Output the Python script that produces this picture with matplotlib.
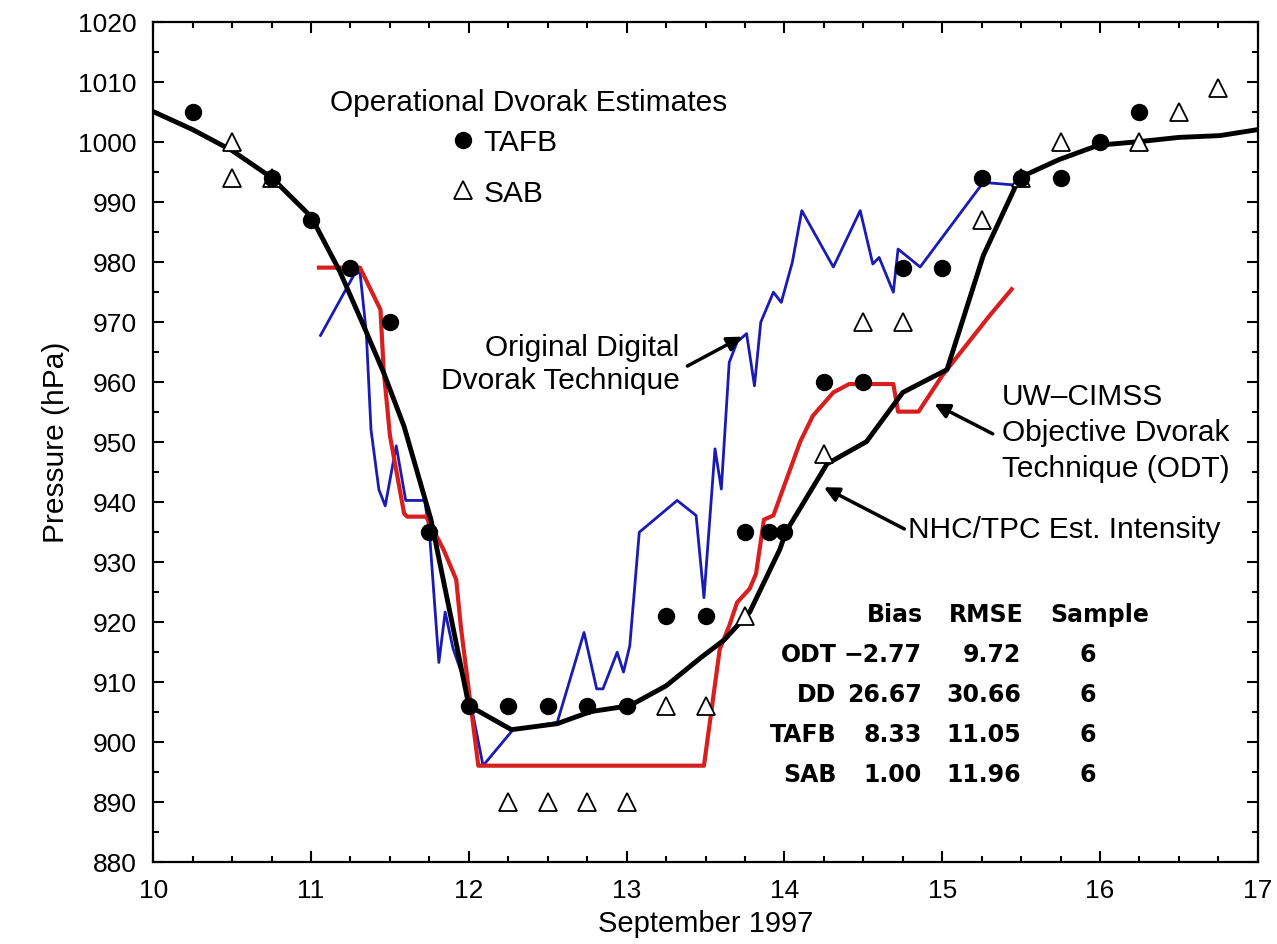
"""Hurricane intensity: Dvorak estimates vs best track, September 1997"""

import matplotlib
matplotlib.use("Agg")
import matplotlib.pyplot as plt
from matplotlib.lines import Line2D
from matplotlib.ticker import MultipleLocator

plt.rcParams["font.family"] = ["Liberation Sans", "DejaVu Sans"]

# NHC/TPC best-track intensity (black)
nhc_day = [10.0, 10.25, 10.5, 10.75, 11.0, 11.14, 11.18, 11.33, 11.46, 11.59,
           11.76, 11.9, 12.0, 12.27, 12.56, 12.77, 13.02, 13.25, 13.47, 13.62,
           13.78, 13.97, 14.01, 14.27, 14.52, 14.75, 15.03, 15.26, 15.49, 15.74,
           15.99, 16.25, 16.5, 16.76, 17.0]
nhc_hpa = [1005, 1002, 998.5, 994, 987.5, 980.5, 978.5, 969.5, 961.5, 952.5,
           937, 919, 906, 902, 903, 905, 906, 909.3, 914, 917,
           921.6, 932, 935, 946.3, 950, 958.2, 962, 981, 994, 997,
           999.4, 1000, 1000.7, 1001, 1002]

# UW-CIMSS objective Dvorak technique (red)
odt_day = [11.05, 11.31, 11.44, 11.46, 11.5, 11.59, 11.61, 11.73, 11.84, 11.92,
           11.95, 12.06, 13.49, 13.59, 13.65, 13.7, 13.78, 13.82, 13.87, 13.93,
           14.1, 14.18, 14.31, 14.41, 14.69, 14.72, 14.85, 15.0, 15.15, 15.3, 15.44]
odt_hpa = [979, 979, 972, 962, 951, 938, 937.5, 937.5, 932, 927,
           919, 896, 896, 915.4, 919.3, 923.2, 925.5, 928, 937, 937.7,
           950, 954.3, 958.2, 959.6, 959.6, 955, 955, 961, 966, 971, 975.4]

# Original digital Dvorak technique (blue)
dd_day = [11.06, 11.27, 11.31, 11.35, 11.38, 11.43, 11.47, 11.54, 11.6, 11.72,
          11.75, 11.81, 11.85, 11.9, 12.0, 12.09, 12.28, 12.56, 12.73, 12.81,
          12.85, 12.94, 12.98, 13.02, 13.08, 13.32, 13.44, 13.49, 13.56, 13.6,
          13.65, 13.7, 13.76, 13.81, 13.85, 13.93, 13.98, 14.05, 14.11, 14.31,
          14.48, 14.56, 14.6, 14.69, 14.72, 14.86, 15.26, 15.49]
dd_hpa = [967.7, 977.7, 978.3, 968.2, 952, 942, 939.3, 949.3, 940.2, 940.2,
          935, 913.2, 921.6, 915.5, 908, 896, 902, 903.2, 918.2, 908.8,
          908.8, 914.9, 911.6, 916, 934.9, 940.2, 937.7, 924, 948.8, 942.1,
          963.2, 966.6, 968, 959.3, 969.9, 974.9, 973.2, 979.9, 988.5, 979.1,
          988.5, 979.6, 980.7, 974.9, 982.1, 979.1, 993.2, 992.7]

# Operational Dvorak estimates
tafb_day = [10.25, 10.75, 11.0, 11.25, 11.5, 11.75, 12.0, 12.25, 12.5, 12.75,
            13.0, 13.25, 13.5, 13.75, 13.9, 14.0, 14.25, 14.5, 14.75, 15.0,
            15.25, 15.5, 15.75, 16.0, 16.25]
tafb_hpa = [1005, 994, 987, 979, 970, 935, 906, 906, 906, 906,
            906, 921, 921, 935, 935, 935, 960, 960, 979, 979,
            994, 994, 994, 1000, 1005]

sab_day = [10.5, 10.5, 10.75, 12.25, 12.5, 12.75, 13.0, 13.25, 13.5, 13.75,
           14.25, 14.5, 14.75, 15.25, 15.5, 15.75, 16.25, 16.5, 16.75]
sab_hpa = [1000, 994, 994, 890, 890, 890, 890, 906, 906, 921,
           948, 970, 970, 987, 994, 1000, 1000, 1005, 1009]

# error statistics table
stat_names = ["ODT", "DD", "TAFB", "SAB"]
stat_bias = ["\u22122.77", "26.67", "8.33", "1.00"]
stat_rmse = ["9.72", "30.66", "11.05", "11.96"]
stat_sample = ["6", "6", "6", "6"]

BLUE = "#1a1ab4"
RED = "#d81f1f"
FS = 21.5

fig = plt.figure(figsize=(12.77, 9.45), dpi=100)
ax = fig.add_axes([0.120, 0.0871, 0.865, 0.889])

ax.plot(dd_day, dd_hpa, color=BLUE, lw=2.0, zorder=2)
ax.plot(odt_day, odt_hpa, color=RED, lw=3.0, zorder=3)
ax.plot(nhc_day, nhc_hpa, color="black", lw=3.5, zorder=4)
ax.plot(sab_day, sab_hpa, ls="none", marker="^", ms=13, mfc="white",
        mec="black", mew=1.3, zorder=5)
ax.plot(tafb_day, tafb_hpa, ls="none", marker="o", ms=11.5, color="black",
        zorder=6)

ax.set_xlim(10, 17)
ax.set_ylim(880, 1020)
ax.xaxis.set_major_locator(MultipleLocator(1))
ax.xaxis.set_minor_locator(MultipleLocator(0.25))
ax.yaxis.set_major_locator(MultipleLocator(10))
ax.yaxis.set_minor_locator(MultipleLocator(5))
ax.tick_params(which="both", direction="in", top=True, right=True, width=1.5)
ax.tick_params(which="major", length=8, labelsize=19, pad=12)
ax.tick_params(which="minor", length=4)
for s in ax.spines.values():
    s.set_linewidth(1.6)

ax.set_xlabel("September 1997", fontsize=21, labelpad=5)
ax.set_ylabel("Pressure (hPa)", fontsize=21.5, labelpad=6)

# legend for operational estimates
ax.text(11.12, 1006.6, "Operational Dvorak Estimates", fontsize=FS,
        ha="left", va="center")
handles = [
    Line2D([], [], ls="none", marker="o", ms=11.5, color="black"),
    Line2D([], [], ls="none", marker="^", ms=13, mfc="white", mec="black",
           mew=1.3),
]
ax.legend(handles, ["TAFB", "SAB"], loc="upper left",
          bbox_to_anchor=(0.272, 0.873), frameon=False, fontsize=FS,
          handlelength=0.6, handletextpad=0.4, labelspacing=0.75,
          borderaxespad=0, borderpad=0)

# annotations
arrow = dict(arrowstyle="-|>", color="black", lw=2.5, mutation_scale=22,
             shrinkA=0, shrinkB=0)
ax.text(13.335, 963, "Original Digital\nDvorak Technique", fontsize=FS,
        ha="right", va="center", multialignment="right", linespacing=1.2)
ax.annotate("", xy=(13.733, 967.5), xytext=(13.385, 962.6), arrowprops=arrow)

ax.text(14.78, 935.5, "NHC/TPC Est. Intensity", fontsize=FS,
        ha="left", va="center")
ax.annotate("", xy=(14.25, 942.4), xytext=(14.76, 935.45), arrowprops=arrow)

ax.text(15.38, 951.6, "UW\u2013CIMSS\nObjective Dvorak\nTechnique (ODT)",
        fontsize=FS, ha="left", va="center", linespacing=1.35)
ax.annotate("", xy=(14.95, 956.3), xytext=(15.32, 951.3), arrowprops=arrow)

# statistics table
bold = dict(fontsize=17, fontweight="bold", va="center", family="DejaVu Sans")
ax.text(14.70, 921.3, "Bias", ha="center", **bold)
ax.text(15.28, 921.3, "RMSE", ha="center", **bold)
ax.text(16.0, 921.3, "Sample", ha="center", **bold)
row_y = [914.6, 907.9, 901.2, 894.6]
for name, b, r, n, y in zip(stat_names, stat_bias, stat_rmse, stat_sample, row_y):
    ax.text(14.33, y, name, ha="right", **bold)
    ax.text(14.87, y, b, ha="right", **bold)
    ax.text(15.50, y, r, ha="right", **bold)
    ax.text(15.92, y, n, ha="center", **bold)

fig.savefig("out.png", dpi=100)
